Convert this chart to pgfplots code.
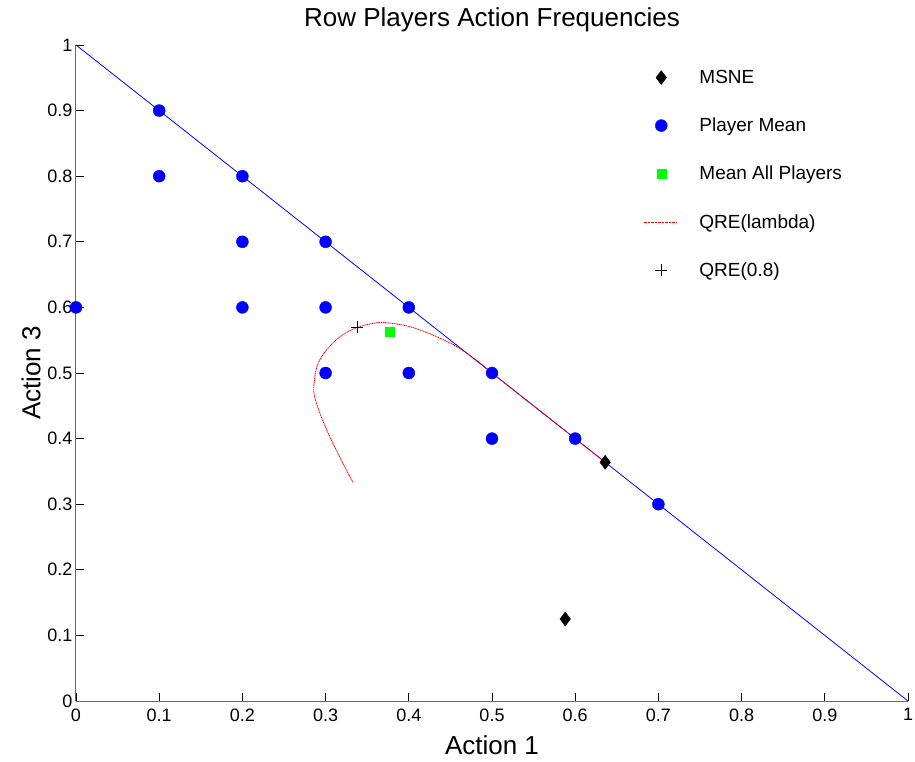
\documentclass[border=0pt]{standalone}
\usepackage{fontspec}
\setmainfont{Liberation Sans}
\usepackage{pgfplots}
\pgfplotsset{compat=1.18}
\begin{document}
\begin{tikzpicture}
\begin{axis}[name=ax, scale only axis, width=832pt, height=656pt,
  xmin=0, xmax=1, ymin=0, ymax=1, clip=false,
  axis x line=bottom, axis y line=left,
  axis line style={-, draw=black!60, line width=1pt},
  tick align=inside, major tick length=8pt, tick style={black, line width=0.7pt},
  xtick={0,0.1,0.2,0.3,0.4,0.5,0.6,0.7,0.8,0.9,1},
  ytick={0,0.1,0.2,0.3,0.4,0.5,0.6,0.7,0.8,0.9,1},
  xticklabels={0,0.1,0.2,0.3,0.4,0.5,0.6,0.7,0.8,0.9,1},
  yticklabels={0,0.1,0.2,0.3,0.4,0.5,0.6,0.7,0.8,0.9,1},
  /pgf/number format/assume math mode=true,
  ticklabel style={font=\fontsize{18}{18}\selectfont},
  xticklabel style={yshift=-4pt},
  title={Row Players Action Frequencies},
  title style={font=\fontsize{26}{26}\selectfont, yshift=4pt},
  xlabel={Action 1}, ylabel={Action 3},
  label style={font=\fontsize{26}{26}\selectfont},
  xlabel style={yshift=-8pt}, ylabel style={yshift=0pt},
  legend style={draw=none, fill=none, at={(0.6785,0.968)}, anchor=north west,
    font=\fontsize{19}{19}\selectfont, row sep=29pt,
    /tikz/every odd column/.style={column sep=20pt}},
  legend cell align=left,
]
\addplot[forget plot, blue, line width=0.8pt] coordinates {(0,1) (1,0)};
\addplot[only marks, mark=diamond*, mark size=7pt, mark options={black, fill=black}, legend image code/.code={\draw[mark size=7pt] plot[mark=diamond*, mark options={black, fill=black}] coordinates {(0.6cm,0cm)};}] coordinates {(0.636,0.364) (0.588,0.125)};
\addlegendentry{MSNE}
\addplot[only marks, mark=*, mark size=6pt, blue, mark options={fill=blue}, legend image code/.code={\draw[mark size=6pt, blue] plot[mark=*, mark options={fill=blue}] coordinates {(0.6cm,0cm)};}] coordinates {
(0,0.6) (0.1,0.9) (0.1,0.8) (0.2,0.8) (0.2,0.7) (0.2,0.6) (0.3,0.7) (0.3,0.6) (0.3,0.5)
(0.4,0.6) (0.4,0.5) (0.5,0.5) (0.5,0.4) (0.6,0.4) (0.7,0.3)};
\addlegendentry{Player Mean}
\addplot[only marks, mark=square*, mark size=4.5pt, green, mark options={fill=green}, legend image code/.code={\draw[mark size=4.5pt, green] plot[mark=square*, mark options={fill=green}] coordinates {(0.6cm,0cm)};}] coordinates {(0.377,0.5625)};
\addlegendentry{Mean All Players}
\addplot[red, line width=0.8pt, dash pattern=on 1.2pt off 0.6pt, smooth, legend image code/.code={\draw[red, line width=1pt, dash pattern=on 2.5pt off 1pt] (0cm,0cm) -- (1.15cm,0cm);}] coordinates {
(0.333,0.333) (0.321,0.362) (0.305,0.403) (0.293,0.439) (0.286,0.469) (0.287,0.494)
(0.291,0.515) (0.301,0.535) (0.317,0.555) (0.337,0.569) (0.365,0.577) (0.397,0.572)
(0.425,0.560) (0.458,0.540) (0.486,0.515) (0.5,0.5) (0.55,0.45) (0.6,0.4) (0.636,0.364)};
\addlegendentry{QRE(lambda)}
\addplot[only marks, mark=+, mark size=6pt, black, line width=0.5pt, legend image code/.code={\draw[black, line width=0.5pt, mark size=6pt] plot[mark=+] coordinates {(0.6cm,0cm)};}] coordinates {(0.338,0.570)};
\addlegendentry{QRE(0.8)}
\end{axis}
\pgfresetboundingbox
\path[use as bounding box] ([xshift=-76pt,yshift=-60pt]ax.south west) rectangle ([xshift=7pt,yshift=45pt]ax.north east);
\end{tikzpicture}
\end{document}
